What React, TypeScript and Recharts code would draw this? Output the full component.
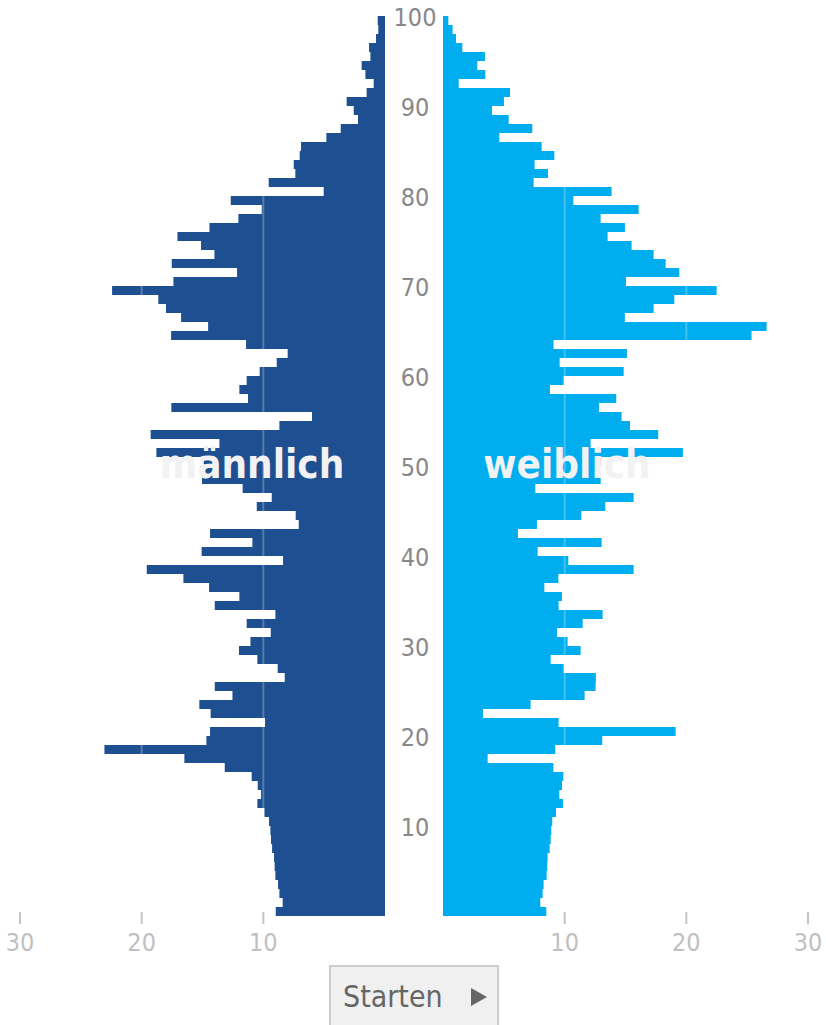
import React from 'react';
import { BarChart, Bar, XAxis, YAxis, ReferenceLine } from 'recharts';

const ages = [
  0, 1, 2, 3, 4, 5, 6, 7, 8, 9,
  10, 11, 12, 13, 14, 15, 16, 17, 18, 19,
  20, 21, 22, 23, 24, 25, 26, 27, 28, 29,
  30, 31, 32, 33, 34, 35, 36, 37, 38, 39,
  40, 41, 42, 43, 44, 45, 46, 47, 48, 49,
  50, 51, 52, 53, 54, 55, 56, 57, 58, 59,
  60, 61, 62, 63, 64, 65, 66, 67, 68, 69,
  70, 71, 72, 73, 74, 75, 76, 77, 78, 79,
  80, 81, 82, 83, 84, 85, 86, 87, 88, 89,
  90, 91, 92, 93, 94, 95, 96, 97, 98, 99,
];

const male = [
  8.98, 8.41, 8.68, 8.79, 9.01, 9.07, 9.12, 9.28, 9.37, 9.42,
  9.53, 9.91, 10.49, 10.19, 10.46, 10.96, 13.17, 16.49, 23.06, 14.68,
  14.38, 9.86, 14.33, 15.26, 12.54, 13.99, 8.24, 8.82, 10.49, 12.0,
  11.06, 9.39, 11.37, 9.01, 13.99, 11.97, 14.46, 16.57, 19.58, 8.38,
  15.07, 10.9, 14.38, 7.09, 7.34, 10.54, 9.31, 11.7, 15.04, 15.2,
  14.9, 18.79, 13.61, 19.26, 8.68, 6.0, 17.56, 11.26, 11.97, 11.37,
  10.3, 8.9, 8.0, 11.42, 17.58, 14.54, 16.76, 18.0, 18.63, 22.43,
  17.39, 12.16, 17.53, 14.02, 15.12, 17.06, 14.43, 12.05, 10.13, 12.68,
  5.04, 9.56, 7.37, 7.5, 7.01, 6.9, 4.82, 3.64, 2.22, 2.57,
  3.15, 1.51, 0.93, 1.61, 1.92, 1.2, 1.31, 0.74, 0.55, 0.6,
];

const female = [
  8.49, 8.0, 8.19, 8.27, 8.52, 8.57, 8.6, 8.77, 8.85, 8.9,
  8.98, 9.29, 9.86, 9.56, 9.78, 9.89, 9.07, 3.67, 9.23, 13.09,
  19.12, 9.5, 3.29, 7.2, 11.64, 12.54, 12.57, 9.92, 8.85, 11.31,
  10.24, 9.37, 11.48, 13.12, 9.5, 9.78, 8.33, 9.48, 15.67, 10.3,
  7.78, 13.04, 6.16, 7.72, 11.37, 13.34, 15.67, 7.59, 12.96, 12.5,
  13.0, 19.72, 12.13, 17.69, 15.37, 14.68, 12.82, 14.24, 8.79, 9.92,
  14.85, 9.59, 15.12, 9.09, 25.36, 26.6, 14.95, 17.31, 19.01, 22.49,
  15.04, 19.42, 18.3, 17.31, 15.5, 13.53, 14.95, 12.96, 16.08, 10.71,
  13.86, 7.45, 8.63, 7.53, 9.15, 8.11, 4.63, 7.34, 5.4, 4.03,
  5.01, 5.51, 1.29, 3.48, 2.82, 3.45, 1.59, 1.07, 0.79, 0.44,
];

const ageTickLabels = [10, 20, 30, 40, 50, 60, 70, 80, 90, 100];
const valueTicks = [10, 20, 30];
const gridValues = [10, 20];

const MALE_COLOR = '#1e5091';
const FEMALE_COLOR = '#00aeef';
const FONT = '"DejaVu Sans Condensed", "DejaVu Sans", sans-serif';

const rows = ages
  .map((a, i) => ({ age: a, male: male[i], female: female[i] }))
  .reverse();

const BAND = 9;

const ValueTick = (props: any) => {
  const { x, y, payload } = props;
  return (
    <g>
      <line x1={x} x2={x} y1={y - 4} y2={y + 8} stroke="#c4c4c4" strokeWidth={2} />
      <text x={x} y={y + 35} textAnchor="middle" fill="#c0c0c0" fontSize={25} fontFamily={FONT}>
        {payload.value}
      </text>
    </g>
  );
};

const AgeTick = (props: any) => {
  const { x, y, payload } = props;
  const label = Number(payload.value) + 1;
  if (!ageTickLabels.includes(label)) return <g />;
  return (
    <text x={x + 30} y={y - BAND / 2 + 9.5} textAnchor="middle" fill="#888888" fontSize={25} fontFamily={FONT}>
      {label}
    </text>
  );
};

export default function App() {
  return (
    <div style={{ position: 'absolute', left: 0, top: 0, width: 826, height: 1025, overflow: 'hidden', background: '#fff' }}>
      <div style={{ position: 'absolute', left: 0, top: 0 }}>
        <BarChart
          width={440}
          height={1000}
          data={rows}
          layout="vertical"
          margin={{ top: 16, right: 0, left: 20, bottom: 0 }}
          barCategoryGap={0}
        >
          <XAxis
            type="number"
            domain={[0, 30]}
            reversed
            ticks={valueTicks}
            interval={0}
            axisLine={false}
            tickLine={false}
            tickSize={0}
            tickMargin={0}
            height={84}
            tick={ValueTick}
            allowDataOverflow
          />
          <YAxis
            type="category"
            dataKey="age"
            orientation="right"
            width={55}
            interval={0}
            axisLine={false}
            tickLine={false}
            tickSize={0}
            tickMargin={0}
            tick={AgeTick}
          />
          <Bar dataKey="male" fill={MALE_COLOR} isAnimationActive={false} />
          {gridValues.map((v) => (
            <ReferenceLine key={v} x={v} stroke="#ffffff" strokeOpacity={0.25} strokeWidth={2} />
          ))}
        </BarChart>
      </div>
      <div style={{ position: 'absolute', left: 440, top: 0 }}>
        <BarChart
          width={386}
          height={1000}
          data={rows}
          layout="vertical"
          margin={{ top: 16, right: 18, left: 3, bottom: 0 }}
          barCategoryGap={0}
        >
          <XAxis
            type="number"
            domain={[0, 30]}
            ticks={valueTicks}
            interval={0}
            axisLine={false}
            tickLine={false}
            tickSize={0}
            tickMargin={0}
            height={84}
            tick={ValueTick}
            allowDataOverflow
          />
          <YAxis type="category" dataKey="age" hide />
          <Bar dataKey="female" fill={FEMALE_COLOR} isAnimationActive={false} />
          {gridValues.map((v) => (
            <ReferenceLine key={v} x={v} stroke="#ffffff" strokeOpacity={0.25} strokeWidth={2} />
          ))}
        </BarChart>
      </div>
      <svg
        width={826}
        height={1025}
        style={{ position: 'absolute', left: 0, top: 0, pointerEvents: 'none' }}
      >
        <text x={252} y={478} textAnchor="middle" fill="#f2f2f2" fontSize={40} fontWeight="bold" fontFamily={FONT}>
          männlich
        </text>
        <text x={567} y={478} textAnchor="middle" fill="#f2f2f2" fontSize={40} fontWeight="bold" fontFamily={FONT}>
          weiblich
        </text>
        <rect x={330} y={966} width={168} height={80} fill="#f0f0f0" stroke="#cccccc" strokeWidth={2} />
        <text x={343} y={1007} fill="#666666" fontSize={30} fontFamily={FONT}>
          Starten
        </text>
        <polygon points="471,988 487,997 471,1006" fill="#666666" />
      </svg>
    </div>
  );
}
